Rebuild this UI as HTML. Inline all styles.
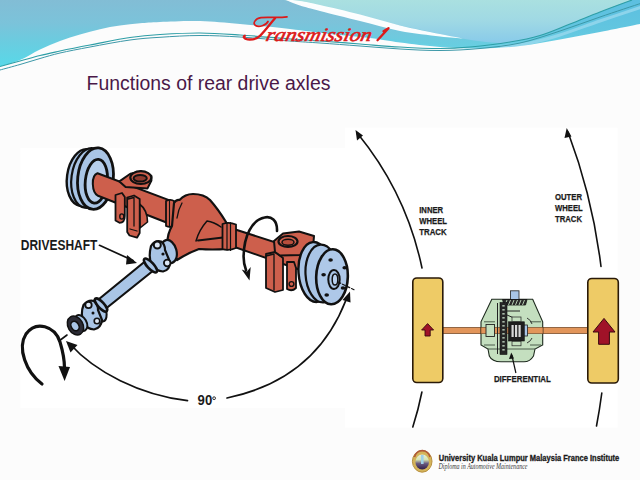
<!DOCTYPE html>
<html><head><meta charset="utf-8">
<style>
html,body{margin:0;padding:0;background:#fcfcfc;}
body{width:640px;height:480px;overflow:hidden;position:relative;font-family:"Liberation Sans",sans-serif;}
svg{position:absolute;left:0;top:0;}
</style></head>
<body>
<svg width="640" height="480" viewBox="0 0 640 480">
<defs>
  <linearGradient id="skyB" x1="0" y1="0" x2="0" y2="45" gradientUnits="userSpaceOnUse">
    <stop offset="0" stop-color="#aae0e0"/>
    <stop offset="0.45" stop-color="#a0d9e4"/>
    <stop offset="1" stop-color="#86c9ea"/>
  </linearGradient>
  <linearGradient id="skyA" x1="0" y1="0" x2="0" y2="66" gradientUnits="userSpaceOnUse">
    <stop offset="0" stop-color="#82bdd5"/>
    <stop offset="0.35" stop-color="#7bc3da"/>
    <stop offset="0.6" stop-color="#6ccbdf"/>
    <stop offset="1" stop-color="#58d8e8"/>
  </linearGradient>
  <linearGradient id="bandG" x1="0" y1="0" x2="0" y2="50" gradientUnits="userSpaceOnUse">
    <stop offset="0" stop-color="#5cbfe0"/>
    <stop offset="0.6" stop-color="#62c6e0"/>
    <stop offset="1" stop-color="#6cd2e4"/>
  </linearGradient>
</defs>
<rect x="0" y="0" width="640" height="80" fill="url(#skyB)"/>
<path d="M0,0 L284,0 C330,9 390,24 462,38.5 C482,42 500,43.5 520,44 L520,60 L0,80 Z" fill="url(#skyA)"/>
<path d="M300.0,30.0 C310.0,30.8 340.0,32.8 360.0,35.0 C380.0,37.2 403.3,41.1 420.0,43.0 C436.7,44.9 446.7,46.3 460.0,46.5 C473.3,46.7 486.7,45.8 500.0,44.0 C513.3,42.2 528.3,38.8 540.0,35.5 C551.7,32.2 560.0,27.9 570.0,24.0 C580.0,20.1 589.7,16.0 600.0,12.0 C610.3,8.0 625.3,2.3 632.0,0.0 C638.7,-2.3 638.7,-1.7 640.0,-2.0 L640,60 L300,60 Z" fill="url(#bandG)"/>
<path d="M500.0,47.0 C505.0,46.3 520.0,45.0 530.0,43.0 C540.0,41.0 548.3,38.7 560.0,35.0 C571.7,31.3 586.3,25.7 600.0,21.0 C613.7,16.3 635.0,9.3 642.0,7.0" fill="none" stroke="#98d8ee" stroke-width="3" opacity="0.8"/>
<path d="M282.0,-1.0 C285.0,-0.7 293.7,0.0 300.0,1.0 C306.3,2.0 310.0,2.8 320.0,5.0 C330.0,7.2 346.7,11.1 360.0,14.5 C373.3,17.9 386.7,22.2 400.0,25.5 C413.3,28.8 429.5,31.8 440.0,34.0 C450.5,36.2 459.2,37.8 463.0,38.5 L463.0,38.5 C459.2,38.2 450.5,37.8 440.0,36.5 C429.5,35.2 413.3,33.6 400.0,31.0 C386.7,28.4 373.3,24.3 360.0,21.0 C346.7,17.7 330.0,13.6 320.0,11.0 C310.0,8.4 305.7,7.3 300.0,5.5 C294.3,3.7 288.3,0.9 286.0,0.0 Z" fill="#ffffff" opacity="0.97"/>
<path d="M0.0,66.5 C3.3,65.4 13.3,62.8 20.0,60.0 C26.7,57.2 33.3,52.7 40.0,49.5 C46.7,46.3 53.3,43.5 60.0,41.0 C66.7,38.5 73.3,36.5 80.0,34.5 C86.7,32.5 93.3,30.7 100.0,29.2 C106.7,27.7 113.3,26.6 120.0,25.6 C126.7,24.6 133.3,23.8 140.0,23.2 C146.7,22.6 150.0,22.3 160.0,21.9 C170.0,21.5 186.7,20.6 200.0,21.0 C213.3,21.4 225.0,22.7 240.0,24.0 C255.0,25.3 275.0,27.3 290.0,29.0 C305.0,30.7 316.7,32.5 330.0,34.0 C343.3,35.5 358.3,36.6 370.0,38.0 C381.7,39.4 388.3,41.0 400.0,42.5 C411.7,44.0 426.7,46.0 440.0,47.0 C453.3,48.0 466.7,48.7 480.0,48.5 C493.3,48.3 506.7,47.5 520.0,46.0 C533.3,44.5 546.7,41.8 560.0,39.5 C573.3,37.2 586.7,34.6 600.0,32.0 C613.3,29.4 633.3,25.3 640.0,24.0 L640,480 L0,480 Z" fill="#fcfcfc"/>
<path d="M0.0,66.5 C3.3,65.6 13.3,62.8 20.0,61.0 C26.7,59.2 33.3,57.2 40.0,55.5 C46.7,53.8 51.7,52.8 60.0,51.0 C68.3,49.2 78.3,47.2 90.0,45.0 C101.7,42.8 118.3,39.2 130.0,37.5 C141.7,35.8 148.3,35.2 160.0,34.5 C171.7,33.8 186.7,32.9 200.0,33.0 C213.3,33.1 225.0,34.0 240.0,35.0 C255.0,36.0 276.7,38.0 290.0,39.0 C303.3,40.0 308.3,40.2 320.0,41.0 C331.7,41.8 346.7,43.0 360.0,44.0 C373.3,45.0 386.7,46.2 400.0,47.0 C413.3,47.8 428.3,48.5 440.0,48.5 C451.7,48.5 458.3,48.1 470.0,47.0 C481.7,45.9 498.3,43.9 510.0,42.0 C521.7,40.1 530.0,38.5 540.0,35.5 C550.0,32.5 560.0,27.9 570.0,24.0 C580.0,20.1 589.7,16.0 600.0,12.0 C610.3,8.0 626.7,2.0 632.0,0.0" fill="none" stroke="#2e9ea6" stroke-width="1.2"/>
<path d="M0.0,70.0 C3.3,69.1 13.3,66.4 20.0,64.5 C26.7,62.6 33.3,60.4 40.0,58.5 C46.7,56.6 51.7,54.9 60.0,53.0 C68.3,51.1 78.3,49.2 90.0,47.0 C101.7,44.8 118.3,41.6 130.0,40.0 C141.7,38.4 148.3,38.0 160.0,37.3 C171.7,36.5 186.7,35.5 200.0,35.5 C213.3,35.5 225.0,36.1 240.0,37.0 C255.0,37.9 276.7,40.0 290.0,41.0 C303.3,42.0 308.3,42.2 320.0,43.0 C331.7,43.8 346.7,45.0 360.0,46.0 C373.3,47.0 386.7,48.2 400.0,49.0 C413.3,49.8 426.7,50.6 440.0,50.5 C453.3,50.4 466.7,49.8 480.0,48.5 C493.3,47.2 506.7,45.9 520.0,43.0 C533.3,40.1 546.7,35.3 560.0,31.0 C573.3,26.7 586.3,21.7 600.0,17.0 C613.7,12.3 635.0,5.3 642.0,3.0" fill="none" stroke="#3c98a8" stroke-width="1"/>

<!-- images -->
<rect x="345" y="127.7" width="272.5" height="300" fill="#ffffff"/>
<rect x="20.5" y="148" width="334.5" height="260" fill="#ffffff"/>
<g id="rightdiag">
  <!-- arcs -->
  <g fill="none" stroke="#111" stroke-width="1.6" stroke-linecap="round">
    <path d="M358,134 A314,314 0 0 1 422,268"/>
    <path d="M421.9,392 A314,314 0 0 1 412.8,427"/>
    <path d="M568,132 A581,581 0 0 1 601,266.5"/>
    <path d="M601.8,393 A581,581 0 0 1 596.5,426"/>
  </g>
  <g fill="#111">
    <path d="M355.5,130 L357,140.5 L363,135.5 Z"/>
    <path d="M566.7,128 L564.5,138 L571.5,136.5 Z"/>
  </g>
  <!-- axle -->
  <rect x="442" y="327.4" width="147" height="6.2" fill="#e2955a" stroke="#6a4020" stroke-width="0.7"/>
  <!-- wheels -->
  <rect x="412.8" y="278" width="30" height="104.5" rx="4" fill="#eecb66" stroke="#2a1a08" stroke-width="1.6"/>
  <rect x="587.8" y="278.5" width="30.5" height="104.5" rx="4" fill="#eecb66" stroke="#2a1a08" stroke-width="1.6"/>
  <!-- wheel arrows -->
  <path d="M427.6,323.6 L433.6,330 L430.2,330 L430.2,336 L425,336 L425,330 L421.6,330 Z" fill="#a01228" stroke="#3a0810" stroke-width="0.9"/>
  <path d="M604,318.4 L615,332 L609.4,332 L609.4,344.3 L598.6,344.3 L598.6,332 L593,332 Z" fill="#a01228" stroke="#3a0810" stroke-width="1"/>
  <!-- differential -->
  <path d="M491.8,299.3 L532.7,299.3 L542.7,321.8 L542.7,345 L535,349 L533.5,356 Q530,361.8 524,361.8 L501,361.8 Q492,361.8 489.3,356 L488,349 L481,345 L481,321.8 Z" fill="#c4dfbf" stroke="#1e2a1e" stroke-width="1.1"/>
  <rect x="481" y="327.4" width="62" height="6.2" fill="#e2955a" stroke="#6a4020" stroke-width="0.6"/>
  <path d="M487.7,349 L535,349" fill="none" stroke="#3e4e3e" stroke-width="0.9"/>
  <path d="M484,321.8 L495,321.8 M530,321.8 L541,321.8 M484,345 L495,345 M530,345 L541,345" fill="none" stroke="#3e4e3e" stroke-width="0.9"/>
  <rect x="510.5" y="290.8" width="8.5" height="8.8" fill="#a9c5e6" stroke="#333" stroke-width="0.9"/>
  <path d="M502.5,299.5 L527,299.5 L525.5,305 L504,305 Z" fill="#2a2a2a" stroke="#111" stroke-width="0.8"/>
  <g stroke="#c4dfbf" stroke-width="0.9">
    <path d="M507,300 L505,305 M510.5,300 L508.5,305 M514,300 L512,305 M517.5,300 L515.5,305 M521,300 L519,305 M524.5,300 L522.5,305"/>
  </g>
  <path d="M497.5,303 L497.5,354" fill="none" stroke="#222" stroke-width="1"/>
  <rect x="500" y="302.5" width="7" height="52" fill="#262626" stroke="#111" stroke-width="0.6"/>
  <g fill="#a9b9a9">
    <rect x="502.3" y="305" width="2.4" height="1.6"/><rect x="502.3" y="309" width="2.4" height="1.6"/><rect x="502.3" y="313" width="2.4" height="1.6"/><rect x="502.3" y="317" width="2.4" height="1.6"/><rect x="502.3" y="321" width="2.4" height="1.6"/><rect x="502.3" y="325" width="2.4" height="1.6"/><rect x="502.3" y="329" width="2.4" height="1.6"/><rect x="502.3" y="333" width="2.4" height="1.6"/><rect x="502.3" y="337" width="2.4" height="1.6"/><rect x="502.3" y="341" width="2.4" height="1.6"/><rect x="502.3" y="345" width="2.4" height="1.6"/><rect x="502.3" y="349" width="2.4" height="1.6"/>
  </g>
  <path d="M507,311 L520,311 M507,315 L514,318" fill="none" stroke="#222" stroke-width="1"/>
  <rect x="486" y="324.5" width="8.5" height="12" fill="#c4dfbf" stroke="#222" stroke-width="0.9"/>
  <rect x="523.5" y="325" width="4" height="11" fill="#a9c5e6" stroke="#222" stroke-width="0.8"/>
  <rect x="508.5" y="321.8" width="15.8" height="19.2" fill="#1e1e1e" stroke="#111" stroke-width="0.6"/>
  <rect x="511.5" y="325" width="2.2" height="12" fill="#d8d8d8"/>
  <rect x="515" y="325" width="2.2" height="12" fill="#d8d8d8"/>
  <rect x="518.5" y="325" width="2.2" height="12" fill="#d8d8d8"/>
  <rect x="512" y="317" width="9" height="4.5" fill="#c4dfbf" stroke="#222" stroke-width="0.7"/>
  <rect x="512" y="341.3" width="9" height="4.5" fill="#c4dfbf" stroke="#222" stroke-width="0.7"/>
  <path d="M527,318 Q531,320 532,324 M527,343 Q531,341 532,338" fill="none" stroke="#222" stroke-width="0.9"/>
  <!-- differential label arrow -->
  <path d="M515.9,373 L511.8,355" fill="none" stroke="#111" stroke-width="1.2"/>
  <path d="M511.3,352.5 L509,359 L514,358.5 Z" fill="#111"/>
  <!-- labels -->
  <g font-family="Liberation Sans" font-weight="bold" fill="#1a1a1a" stroke="#1a1a1a" stroke-width="0.25" font-size="9.4">
    <text x="419.2" y="212.7" textLength="24" lengthAdjust="spacingAndGlyphs">INNER</text>
    <text x="419.2" y="223.6" textLength="27.8" lengthAdjust="spacingAndGlyphs">WHEEL</text>
    <text x="419.2" y="234.9" textLength="27.5" lengthAdjust="spacingAndGlyphs">TRACK</text>
    <text x="555" y="199.6" textLength="27" lengthAdjust="spacingAndGlyphs">OUTER</text>
    <text x="555" y="210.8" textLength="27.7" lengthAdjust="spacingAndGlyphs">WHEEL</text>
    <text x="555" y="222" textLength="27" lengthAdjust="spacingAndGlyphs">TRACK</text>
    <text x="493.9" y="381.9" textLength="57" lengthAdjust="spacingAndGlyphs">DIFFERENTIAL</text>
  </g>
</g>

<g id="leftdiag" stroke="#111" stroke-linejoin="round" stroke-linecap="round">
  <!-- left drum -->
  <ellipse cx="84" cy="177.5" rx="17" ry="28.5" fill="#a9c5e6" stroke-width="2.4" transform="rotate(8 84 177.5)"/>
  <ellipse cx="89" cy="178" rx="17.5" ry="30" fill="#a9c5e6" stroke-width="2.2" transform="rotate(8 89 178)"/>
  <ellipse cx="95.5" cy="178.6" rx="17.8" ry="30.8" fill="#a9c5e6" stroke-width="2.8" transform="rotate(6 95.5 178.6)"/>
  <ellipse cx="96.3" cy="181.2" rx="11" ry="22" fill="#b7cfec" stroke-width="2.8" transform="rotate(6 96.3 181.2)"/>
  <!-- left tube -->
  <path d="M97.5,173.2 L173,201.6 L169,223.5 L98,195.8 Q93.2,193.5 92.8,184 Q92.5,175 97.5,173.2 Z" fill="#cd5f4c" stroke-width="2"/>
  <!-- left perch brackets -->
  <path d="M115.5,195 L122,193 L124.8,197 L124.8,216 Q124.8,222.8 119.5,222.8 L115.5,220.5 Z" fill="#cd5f4c" stroke-width="1.8"/>
  <ellipse cx="121.8" cy="216.5" rx="2" ry="2.6" fill="#cd5f4c" stroke-width="1.4"/>
  <path d="M139.5,204 Q147.5,210 147.5,222 L140,228 Z" fill="#cd5f4c" stroke-width="1.6"/>
  <path d="M127.2,197.5 L134,195.5 L139.7,199 L139.7,233 L137,237.7 L129.5,235.5 L127.2,232 Z" fill="#cd5f4c" stroke-width="1.8"/>
  <path d="M128,199 L134,197.5 L134,226 M130,229 L137,231" fill="none" stroke-width="1.3"/>
  <!-- left perch top -->
  <path d="M119.4,181.4 L130.3,173.8 L141,171.5 L151.4,176 L151.4,180.6 L147.5,188.4 L125.6,187 Z" fill="#cd5f4c" stroke-width="2"/>
  <ellipse cx="140.8" cy="177.6" rx="10.5" ry="6.4" fill="#cd5f4c" stroke-width="2.2"/>
  <ellipse cx="140.2" cy="178.3" rx="6.6" ry="3.3" fill="#8e3a2e" stroke-width="2"/>
  <!-- collar left -->
  <path d="M166,201 Q171,198.5 174.5,201.5 L174.5,225 Q171,228 166,226 Z" fill="#cd5f4c" stroke-width="1.8"/>
  <path d="M169.5,200 L169.5,227" fill="none" stroke-width="1.1"/>
  <!-- housing -->
  <path d="M174,203 Q176,199.5 179.5,200 Q185,194 193,194 Q204,194 210,200 Q218,209 226,222 L229,232 L227,249 Q212,250 199,249 Q188,253 177,260 L168,248 Q166,236 172,226 Z" fill="#cd5f4c" stroke-width="2.2"/>
  <path d="M182,203 Q178,210 177,218" fill="none" stroke-width="1.3"/>
  <path d="M196,241 Q199,230 207,221 Q214,222 221,227" fill="none" stroke-width="1.5"/>
  <path d="M198,240.5 L223,237.5" fill="none" stroke-width="2"/>
  <!-- right tube -->
  <path d="M226,226.5 L306,252.3 L306,272 L226,244 Z" fill="#cd5f4c" stroke-width="2"/>
  <path d="M222.5,224 Q229,221.5 236,224.5 L236,248 Q229,251 222.5,249 Z" fill="#cd5f4c" stroke-width="1.8"/>
  <path d="M227,222.5 L227,250 M230.5,222.5 L230.5,250.5" fill="none" stroke-width="1.2"/>
  <!-- right perch brackets -->
  <path d="M266,254 L275,252 L283,258 L283,290 L275,292 L266,288 Z" fill="#cd5f4c" stroke-width="1.8"/>
  <path d="M266,256 L274,254 L274,290" fill="none" stroke-width="1.3"/>
  <path d="M287,262 L294,262 L296,268 L296,288 Q292,292 287,289 Z" fill="#cd5f4c" stroke-width="1.8"/>
  <circle cx="291.5" cy="284" r="2.4" fill="#cd5f4c" stroke-width="1.4"/>
  <!-- right perch top -->
  <path d="M274,241 L283,233.5 L299,231.5 L314,236 L313,248 L301,255 L280,255.5 L275,252 Z" fill="#cd5f4c" stroke-width="2"/>
  <ellipse cx="288" cy="241.5" rx="9.5" ry="5.5" fill="#cd5f4c" stroke-width="2.2"/>
  <ellipse cx="288" cy="242.3" rx="6" ry="3" fill="#b84e3c" stroke-width="1.5"/>
  <!-- right drum -->
  <ellipse cx="315" cy="272" rx="16.5" ry="30" fill="#a9c5e6" stroke-width="2.4" transform="rotate(-4 315 272)"/>
  <ellipse cx="322" cy="273.5" rx="16.5" ry="29" fill="#a9c5e6" stroke-width="2.2" transform="rotate(-3 322 273.5)"/>
  <ellipse cx="332" cy="276.8" rx="15.8" ry="27.5" fill="#aec8e8" stroke-width="2.6" transform="rotate(2 332 277)"/>
  <ellipse cx="334" cy="279.5" rx="5.7" ry="9.5" fill="#a9c5e6" stroke-width="2"/>
  <ellipse cx="335" cy="279.5" rx="2.8" ry="5.6" fill="#b9d1ee" stroke-width="1.5"/>
  <g fill="#111" stroke="none">
    <ellipse cx="330.6" cy="260" rx="2.3" ry="1.7"/>
    <ellipse cx="344.7" cy="267.8" rx="2.3" ry="1.7"/>
    <ellipse cx="323.6" cy="274.8" rx="2.3" ry="1.7"/>
    <ellipse cx="343" cy="288" rx="2.3" ry="1.7"/>
    <ellipse cx="326.7" cy="295" rx="2.3" ry="1.7"/>
  </g>
  <!-- driveshaft tube -->
  <path d="M145.5,261 L154,270 L103.5,310.5 L96,301.5 Z" fill="#a9c5e6" stroke-width="2.2"/>
  <!-- front u-joint -->
  <ellipse cx="169" cy="251.5" rx="7.5" ry="11.8" fill="#a9c5e6" stroke-width="2.2" transform="rotate(-15 169 251.5)"/>
  <path d="M151,246 Q155,240 161,241.5 Q165,244 165,250 L170,262 Q170,270 163,271.5 Q156,271 152,266 Q148,258 151,246 Z" fill="#a9c5e6" stroke-width="2.2"/>
  <circle cx="157.3" cy="245" r="3.5" fill="#dde8f6" stroke-width="2"/>
  <circle cx="167.2" cy="263" r="3.3" fill="#dde8f6" stroke-width="1.8"/>
  <circle cx="163" cy="254" r="1.6" fill="#111" stroke="none"/>
  <ellipse cx="150.5" cy="265.5" rx="3.2" ry="9" fill="#a9c5e6" stroke-width="2.6" transform="rotate(-43 150.5 265.5)"/>
  <!-- rear u-joint -->
  <ellipse cx="100" cy="312" rx="6" ry="10" fill="#a9c5e6" stroke-width="2" transform="rotate(-20 100 312)"/>
  <path d="M83.5,305 Q88,299.5 94,301 Q98,304 98,310 L102,320 Q101,328 94,329.5 Q87,329 84,323 Q80,314 83.5,305 Z" fill="#a9c5e6" stroke-width="2.2"/>
  <circle cx="88.5" cy="305" r="3.2" fill="#dde8f6" stroke-width="1.8"/>
  <circle cx="97" cy="321" r="2.8" fill="#dde8f6" stroke-width="1.6"/>
  <circle cx="93" cy="313" r="1.5" fill="#111" stroke="none"/>
  <ellipse cx="101" cy="305" rx="3" ry="8.5" fill="#a9c5e6" stroke-width="2.6" transform="rotate(-43 101 305)"/>
  <!-- slip yoke end -->
  <ellipse cx="81" cy="323" rx="5.5" ry="8.5" fill="#a9c5e6" stroke-width="2" transform="rotate(-30 81 323)"/>
  <ellipse cx="75.5" cy="325.5" rx="7.5" ry="10" fill="#2b2b35" stroke-width="1.5" transform="rotate(-30 75.5 325.5)"/>
  <ellipse cx="75" cy="326" rx="3.8" ry="5" fill="#a9c5e6" stroke-width="1.6" transform="rotate(-30 75 326)"/>
</g>
<!-- arrows and labels left -->
<g fill="none" stroke="#111" stroke-linecap="round">
  <path d="M99.5,245.3 L133,260.5" stroke-width="1.7"/>
  <path d="M70,344 C95,372 140,395 187.5,400.7" stroke-width="1.7"/>
  <path d="M227,398 C275,388 322,362 346,300" stroke-width="1.7"/>
  <path d="M59,341 L67,335" stroke-width="1.6"/>
  <path d="M338,282 L354,289.7" stroke-width="1.2" stroke-dasharray="3 2"/>
  <path d="M42,384 C26,372 17,348 26,334 C36,320 55,326 60,342 C63,352 64.5,360 64.5,368" stroke-width="3.2"/>
  <path d="M277,231 C277.5,220 271,216 264.5,217.5 C252,220 244,236 243.6,256 C243.5,262 244.5,266 246,270" stroke-width="2.6"/>
</g>
<g fill="#111" stroke="none">
  <path d="M137,263 L127,255 L126,264.5 Z"/>
  <path d="M64.6,381 L58.5,366 L70,367 Z"/>
  <path d="M249.5,280.5 L241.7,269.6 L247,271.5 L250.7,267 Z"/>
  <path d="M66,341 L77.5,345 L70.5,352.5 Z"/>
  <path d="M350,291.5 L342.5,300 L350.5,302.5 Z"/>
</g>
<text x="20.8" y="249.7" font-family="Liberation Sans" font-weight="bold" font-size="14.6" fill="#1a1a1a" textLength="76.6" lengthAdjust="spacingAndGlyphs">DRIVESHAFT</text>
<text x="197.6" y="405.4" font-family="Liberation Sans" font-weight="bold" font-size="14.2" fill="#1a1a1a" textLength="14.6" lengthAdjust="spacingAndGlyphs">90</text>
<circle cx="214.1" cy="398.2" r="1.4" fill="none" stroke="#1a1a1a" stroke-width="0.9"/>

<!-- title -->
<text x="86.6" y="89.6" font-family="Liberation Sans" font-size="20" fill="#4a1848" textLength="243.8" lengthAdjust="spacingAndGlyphs">Functions of rear drive axles</text>
<g fill="none" stroke="#dc1a1a" stroke-linecap="round" stroke-linejoin="round">
  <path d="M268,21.5 C266,25.5 259,27.5 255.5,25.5 C252.5,23.5 255,18.5 261,17.6 C268,16.8 278,18.2 287,16.8" stroke-width="1.7"/>
  <path d="M275,18.3 C270,24 265,31 260,35.8 C257,38.8 252,39.8 247.5,39.4 C244,39 242.8,36.5 244.8,35.8" stroke-width="2.3"/>
</g>
<g transform="translate(0,40.6) skewX(-14) translate(0,-40.6)">
<text x="265" y="40.6" font-family="Liberation Serif" font-style="italic" font-size="19" fill="#dc1a1a" stroke="#dc1a1a" stroke-width="0.6" textLength="105.5" lengthAdjust="spacingAndGlyphs">ransmission</text>
</g>
<path d="M377.5,40.2 L388.5,28.2 L383.5,31.2" fill="none" stroke="#dc1a1a" stroke-width="2.3" stroke-linecap="round" stroke-linejoin="round"/>
<defs>
  <linearGradient id="logoIn" x1="0" y1="0" x2="0" y2="1">
    <stop offset="0" stop-color="#e8eee0"/>
    <stop offset="0.35" stop-color="#d6e4b0"/>
    <stop offset="0.6" stop-color="#6a5a80"/>
    <stop offset="1" stop-color="#2e1c48"/>
  </linearGradient>
</defs>
<g id="logo">
  <ellipse cx="422.2" cy="461.3" rx="9.8" ry="10.9" fill="#d4b45a"/>
  <ellipse cx="422.2" cy="461.3" rx="9.8" ry="10.9" fill="none" stroke="#b89040" stroke-width="1"/>
  <path d="M414.5,457 A8,8.5 0 0 1 430,457" fill="none" stroke="#b0583a" stroke-width="1.6"/>
  <ellipse cx="422.2" cy="462" rx="6.8" ry="7.6" fill="url(#logoIn)"/>
  <rect x="421" y="455" width="2.6" height="9" fill="#9fd0e6"/>
</g>
<text x="438.75" y="461.4" font-family="Liberation Sans" font-weight="bold" font-size="8.2" fill="#1a1a1a" stroke="#1a1a1a" stroke-width="0.3" textLength="180.5" lengthAdjust="spacingAndGlyphs">University Kuala Lumpur Malaysia France Institute</text>
<text x="438.5" y="469.3" font-family="Liberation Serif" font-style="italic" font-size="7.8" fill="#3a3a3a" textLength="89" lengthAdjust="spacingAndGlyphs">Diploma in Automotive Maintenance</text>

</svg>
</body></html>
